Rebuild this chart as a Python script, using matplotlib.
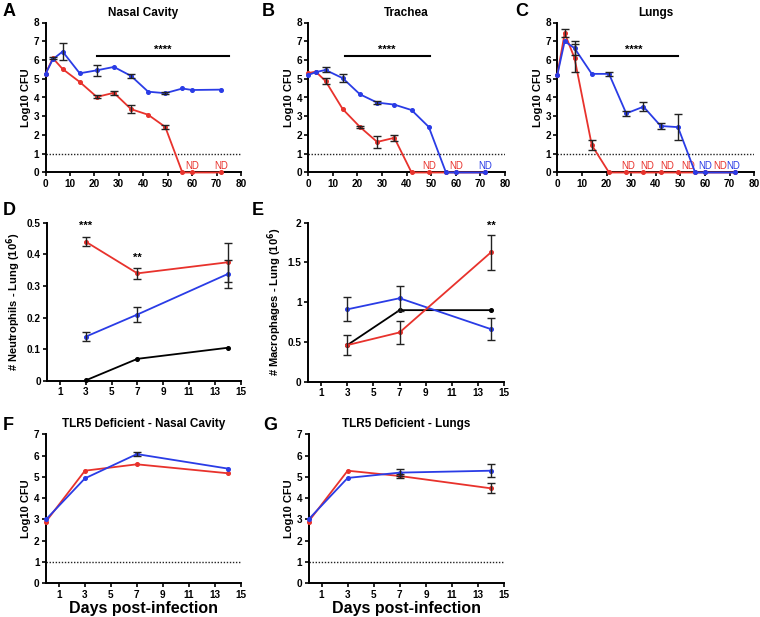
import numpy as np
import matplotlib
matplotlib.use("Agg")
import matplotlib.pyplot as plt

plt.rcParams['font.family'] = ['Liberation Sans', 'DejaVu Sans']
plt.rcParams['font.weight'] = 'bold'
plt.rcParams['axes.labelweight'] = 'bold'

RED = '#e8322c'
BLUE = '#2a3ce6'

# ---------------- data ----------------
days_long = [0, 3, 7, 14, 21, 28, 35, 42, 49, 56, 60, 72]

nasal_blue = [5.25, 6.04, 6.45, 5.29, 5.45, 5.63, 5.15, 4.31, 4.23, 4.48, 4.40, 4.42]
nasal_blue_err = [0, 0, 0.45, 0, 0.3, 0, 0.1, 0, 0.05, 0, 0, 0]
nasal_red = [5.25, 6.10, 5.52, 4.83, 4.03, 4.25, 3.38, 3.08, 2.43, 0, 0, 0]
nasal_red_err = [0, 0.05, 0, 0, 0.08, 0.1, 0.22, 0, 0.1, 0, 0, 0]

trachea_blue = [5.2, 5.35, 5.47, 5.03, 4.17, 3.73, 3.62, 3.33, 2.43, 0, 0, 0]
trachea_blue_err = [0, 0, 0.13, 0.2, 0, 0.1, 0, 0, 0, 0, 0, 0]
trachea_red = [5.3, 5.38, 4.88, 3.38, 2.43, 1.63, 1.85, 0, 0, 0, 0, 0]
trachea_red_err = [0, 0, 0.15, 0, 0.05, 0.3, 0.15, 0, 0, 0, 0, 0]

lungs_blue = [5.2, 7.0, 6.63, 5.26, 5.26, 3.15, 3.51, 2.48, 2.42, 0, 0, 0]
lungs_blue_err = [0, 0, 0.38, 0, 0.1, 0.12, 0.25, 0.15, 0.7, 0, 0, 0]
lungs_red = [5.2, 7.43, 6.1, 1.46, 0, 0, 0, 0, 0, 0, 0, 0]
lungs_red_err = [0, 0.2, 0.75, 0.25, 0, 0, 0, 0, 0, 0, 0, 0]

cell_days = [3, 7, 14]
neut_red = [0.44, 0.34, 0.375]
neut_red_err = [0.014, 0.017, 0.062]
neut_blue = [0.14, 0.21, 0.338]
neut_blue_err = [0.015, 0.025, 0.044]
neut_black = [0.002, 0.07, 0.105]

mac_red = [0.46, 0.62, 1.63]
mac_red_err = [0.13, 0.14, 0.22]
mac_blue = [0.91, 1.05, 0.66]
mac_blue_err = [0.15, 0.155, 0.14]
mac_black = [0.46, 0.90, 0.90]

tlr_days = [0, 3, 7, 14]
tlr_nasal_red = [2.9, 5.29, 5.59, 5.17]
tlr_nasal_red_err = [0, 0, 0, 0]
tlr_nasal_blue = [3.0, 4.93, 6.07, 5.39]
tlr_nasal_blue_err = [0, 0, 0.1, 0]
tlr_lung_red = [2.9, 5.29, 5.04, 4.46]
tlr_lung_red_err = [0, 0, 0.1, 0.23]
tlr_lung_blue = [3.0, 4.95, 5.2, 5.29]
tlr_lung_blue_err = [0, 0, 0.15, 0.3]

# ---------------- figure ----------------
fig = plt.figure(figsize=(7.6, 6.17), dpi=100)


def px_axes(l, r, t, b):
    W, H = 760.0, 617.0
    return fig.add_axes([l / W, 1 - b / H, (r - l) / W, (b - t) / H])


def style(ax):
    for s in ('top', 'right'):
        ax.spines[s].set_visible(False)
    for s in ('left', 'bottom'):
        ax.spines[s].set_linewidth(1.4)
    ax.tick_params(direction='out', length=3, width=1.2, labelsize=7.2, pad=1.5)
    for lab in ax.get_xticklabels() + ax.get_yticklabels():
        lab.set_fontweight('bold')


def series(ax, x, y, err, color, z):
    x = np.asarray(x, float)
    y = np.asarray(y, float)
    err = np.asarray(err, float)
    ax.plot(x, y, '-o', color=color, lw=1.3, ms=2.6, zorder=z, clip_on=False)
    m = err > 0
    if m.any():
        ax.errorbar(x[m], y[m], yerr=err[m], fmt='none', ecolor='#222222',
                    elinewidth=1.0, capsize=2.8, capthick=1.0, zorder=z + 5,
                    clip_on=False)


def letter(x, y, s):
    fig.text(x / 760.0, 1 - y / 617.0, s, fontsize=13, fontweight='bold',
             ha='left', va='center')


def cfu_panel(ax, title, ylim_top, xmax, xticks):
    ax.set_xlim(0, xmax)
    ax.set_ylim(0, ylim_top)
    ax.set_xticks(xticks)
    ax.set_yticks(range(0, ylim_top + 1))
    ax.axhline(1, color='#222222', lw=1.0, ls=(0, (1, 1.2)), zorder=1)
    ax.set_ylabel('Log10 CFU', fontsize=8, fontweight='bold', labelpad=2)
    ax.set_title(title, fontsize=8.5, fontweight='bold', pad=5)
    style(ax)


# A
axA = px_axes(45.5, 241, 22.5, 172.5)
series(axA, days_long, nasal_red, nasal_red_err, RED, 3)
series(axA, days_long, nasal_blue, nasal_blue_err, BLUE, 4)
cfu_panel(axA, 'Nasal Cavity', 8, 80, range(0, 81, 10))
axA.plot([21, 75], [6.19, 6.19], color='black', lw=1.5)
axA.text(48, 6.3, '****', ha='center', va='bottom', fontsize=8, fontweight='bold')
for xx in (60, 72):
    axA.text(xx, 0.08, 'ND', color=RED, ha='center', va='bottom', fontsize=7,
             fontweight='normal')

# B
axB = px_axes(308.3, 505, 22.5, 172.5)
series(axB, days_long, trachea_red, trachea_red_err, RED, 3)
series(axB, days_long, trachea_blue, trachea_blue_err, BLUE, 4)
cfu_panel(axB, 'Trachea', 8, 80, range(0, 81, 10))
axB.plot([15, 49.5], [6.19, 6.19], color='black', lw=1.5)
axB.text(32, 6.3, '****', ha='center', va='bottom', fontsize=8, fontweight='bold')
for xx, c in ((49, RED), (60, RED), (72, BLUE)):
    axB.text(xx, 0.08, 'ND', color=c, ha='center', va='bottom', fontsize=7,
             fontweight='normal')

# C
axC = px_axes(557.3, 754.3, 22.5, 172.5)
series(axC, days_long, lungs_red, lungs_red_err, RED, 3)
series(axC, days_long, lungs_blue, lungs_blue_err, BLUE, 4)
cfu_panel(axC, 'Lungs', 8, 80, range(0, 81, 10))
axC.plot([13.5, 49], [6.19, 6.19], color='black', lw=1.5)
axC.text(31, 6.3, '****', ha='center', va='bottom', fontsize=8, fontweight='bold')
for xx, c in ((28.7, RED), (36.4, RED), (44.5, RED), (53.0, RED),
              (60.2, BLUE), (66.2, RED), (71.6, BLUE)):
    axC.text(xx, 0.08, 'ND', color=c, ha='center', va='bottom', fontsize=7,
             fontweight='normal')

# D
axD = px_axes(47, 240.7, 222.7, 381)
series(axD, cell_days, neut_black, [0, 0, 0], 'black', 2)
series(axD, cell_days, neut_blue, neut_blue_err, BLUE, 3)
series(axD, cell_days, neut_red, neut_red_err, RED, 4)
axD.set_xlim(0, 15)
axD.set_ylim(0, 0.5)
axD.set_xticks(range(1, 16, 2))
axD.set_yticks([0, 0.1, 0.2, 0.3, 0.4, 0.5])
axD.set_yticklabels(['0', '0.1', '0.2', '0.3', '0.4', '0.5'])
axD.set_ylabel('# Neutrophils - Lung (10$^\\mathbf{6}$)', fontsize=8,
               fontweight='bold', labelpad=3)
style(axD)
axD.text(3, 0.475, '***', ha='center', va='bottom', fontsize=8, fontweight='bold')
axD.text(7, 0.372, '**', ha='center', va='bottom', fontsize=8, fontweight='bold')

# E
axE = px_axes(308, 504.3, 222.7, 381.7)
series(axE, cell_days, mac_black, [0, 0, 0], 'black', 2)
series(axE, cell_days, mac_blue, mac_blue_err, BLUE, 3)
series(axE, cell_days, mac_red, mac_red_err, RED, 4)
axE.set_xlim(0, 15)
axE.set_ylim(0, 2)
axE.set_xticks(range(1, 16, 2))
axE.set_yticks([0, 0.5, 1, 1.5, 2])
axE.set_yticklabels(['0', '0.5', '1', '1.5', '2'])
axE.set_ylabel('# Macrophages - Lung (10$^\\mathbf{6}$)', fontsize=8,
               fontweight='bold', labelpad=3)
style(axE)
axE.text(14, 1.9, '**', ha='center', va='bottom', fontsize=8, fontweight='bold')

# F
axF = px_axes(46, 240.7, 434.3, 583.3)
series(axF, tlr_days, tlr_nasal_red, tlr_nasal_red_err, RED, 3)
series(axF, tlr_days, tlr_nasal_blue, tlr_nasal_blue_err, BLUE, 4)
cfu_panel(axF, 'TLR5 Deficient - Nasal Cavity', 7, 15, range(1, 16, 2))
axF.set_xlabel('Days post-infection', fontsize=11.5, fontweight='bold', labelpad=1)

# G
axG = px_axes(308.5, 504.3, 434.3, 583.3)
series(axG, tlr_days, tlr_lung_red, tlr_lung_red_err, RED, 3)
series(axG, tlr_days, tlr_lung_blue, tlr_lung_blue_err, BLUE, 4)
cfu_panel(axG, 'TLR5 Deficient - Lungs', 7, 15, range(1, 16, 2))
axG.set_xlabel('Days post-infection', fontsize=11.5, fontweight='bold', labelpad=1)

letter(3, 11, 'A')
letter(262, 11, 'B')
letter(515, 11, 'C')
letter(3, 210, 'D')
letter(252, 210, 'E')
letter(3, 425, 'F')
letter(263, 426, 'G')

fig.savefig('out.png', dpi=100)
